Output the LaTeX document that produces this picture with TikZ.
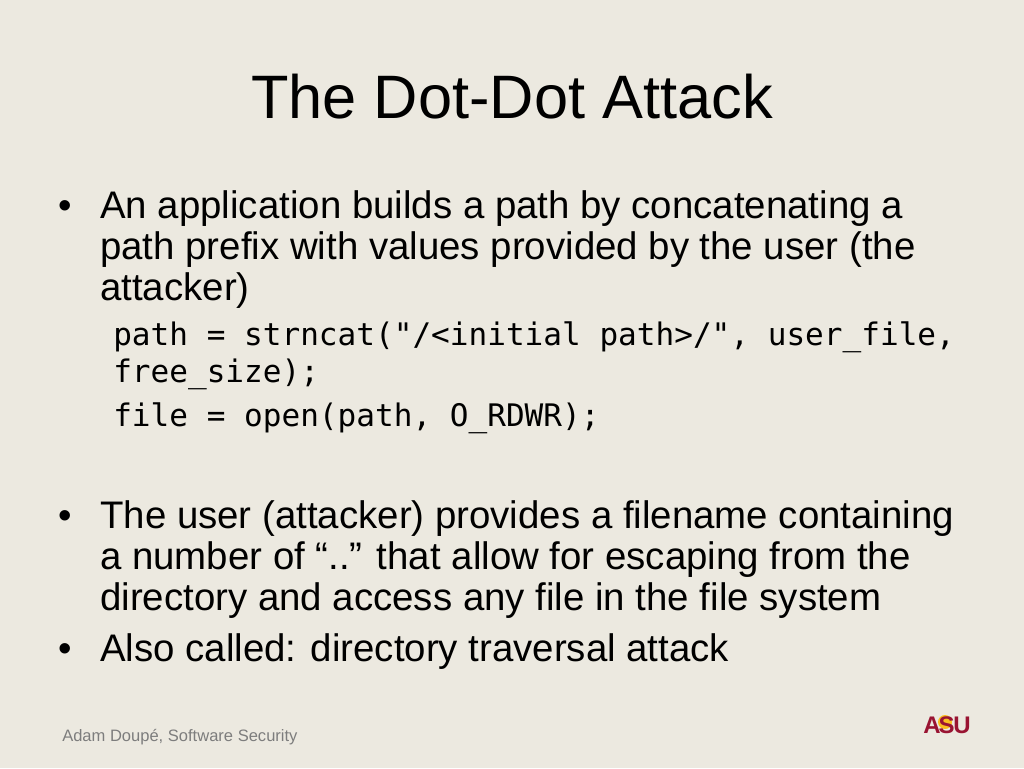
\documentclass[tikz,border=0pt]{standalone}
\usepackage{fontspec}
\setmainfont{Liberation Sans}
\newfontfamily\codefont{DejaVu Sans Mono}
\usepackage{xcolor}
\definecolor{slidebg}{RGB}{236,233,224}
\definecolor{asured}{RGB}{153,20,50}
\definecolor{asugold}{RGB}{250,190,30}
\definecolor{footgray}{RGB}{125,125,125}
\newcommand{\us}{\char`\_}

\begin{document}
\begin{tikzpicture}[x=0.75pt,y=-0.75pt,
  textline/.style={anchor=base west,inner sep=0pt,font=\fontsize{28.8}{28.8}\selectfont},
  bulletmark/.style={anchor=base west,inner sep=0pt,font=\fontsize{28.8}{28.8}\selectfont},
  codeline/.style={anchor=base west,inner sep=0pt,font=\codefont\fontsize{23.3}{23.3}\selectfont}]

  % Slide background.
  \fill[slidebg] (0,0) rectangle (1024,768);
  \useasboundingbox (0,0) rectangle (1024,768);

  % Title.
  \node[anchor=base,inner sep=0pt,font=\fontsize{46}{46}\selectfont] (title) at (512,118) {The Dot-Dot Attack};

  % First bullet.
  \node[bulletmark] (b1) at (58,218) {•};
  \node[textline] (l1) at (100,218) {An application builds a path by concatenating a};
  \node[textline] (l2) at (100,259) {path prefix with values provided by the user (the};
  \node[textline] (l3) at (100,300) {attacker)};
  \node[codeline] (c1) at (113,345) {path = strncat("/<initial path>/", user\us file,};
  \node[codeline] (c2) at (113,382) {free\us size);};
  \node[codeline] (c3) at (113,426) {file = open(path, O\us RDWR);};

  % Second bullet.
  \node[bulletmark] (b2) at (58,528) {•};
  \node[textline] (m1) at (100,528) {The user (attacker) provides a filename containing};
  \node[textline] (m2) at (100,569) {a number of “..” that allow for escaping from the};
  \node[textline] (m3) at (100,610) {directory and access any file in the file system};

  % Third bullet.
  \node[bulletmark] (b3) at (58,661) {•};
  \node[textline] (n1) at (100,661) {Also called: directory traversal attack};

  % Footer.
  \node[anchor=base west,inner sep=0pt,text=footgray,font=\fontsize{12.4}{12.4}\selectfont] (foot) at (62,741) {Adam Doupé, Software Security};

  % Logo.
  \fill[asugold] (945,722) circle (7);
  \node[anchor=base west,inner sep=0pt,text=asured,font=\bfseries\fontsize{18}{18}\selectfont] (logo) at (923,733) {A\kern-1.5pt S\kern-1pt U};
\end{tikzpicture}
\end{document}
